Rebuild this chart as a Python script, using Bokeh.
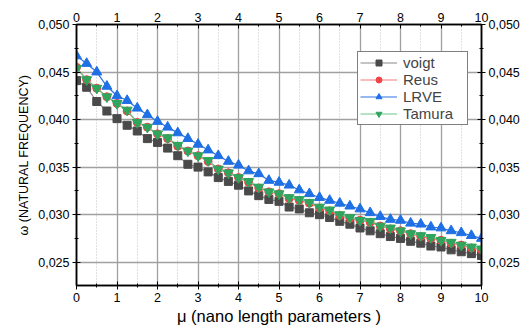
from bokeh.plotting import figure
from bokeh.models import (Range1d, LinearAxis, CustomJSTickFormatter, FixedTicker,
                          Legend, LegendItem, Grid)
from bokeh.embed import file_html
from bokeh.resources import INLINE

mu = [0.0, 0.25, 0.5, 0.75, 1.0, 1.25, 1.5, 1.75, 2.0, 2.25, 2.5, 2.75, 3.0, 3.25,
      3.5, 3.75, 4.0, 4.25, 4.5, 4.75, 5.0, 5.25, 5.5, 5.75, 6.0, 6.25, 6.5, 6.75,
      7.0, 7.25, 7.5, 7.75, 8.0, 8.25, 8.5, 8.75, 9.0, 9.25, 9.5, 9.75, 10.0]

voigt = [0.0441, 0.0434, 0.0419, 0.0409, 0.0401, 0.0394, 0.0388, 0.0380, 0.0376, 0.0370,
         0.0362, 0.0353, 0.0350, 0.0345, 0.0339, 0.0335, 0.0331, 0.0325, 0.0320, 0.0316,
         0.0314, 0.0308, 0.0306, 0.0302, 0.0300, 0.0297, 0.0293, 0.0290, 0.0286, 0.0283,
         0.0280, 0.0277, 0.0275, 0.0272, 0.0270, 0.0267, 0.0266, 0.0263, 0.0261, 0.0259,
         0.0257]

reus = [0.0455, 0.0442, 0.0433, 0.0424, 0.0417, 0.0409, 0.0397, 0.0392, 0.0385, 0.0380,
        0.0372, 0.0367, 0.0362, 0.0356, 0.0348, 0.0344, 0.0339, 0.0334, 0.0328, 0.0324,
        0.0322, 0.0317, 0.0315, 0.0312, 0.0307, 0.0304, 0.0299, 0.0296, 0.0294, 0.0292,
        0.0288, 0.0285, 0.0283, 0.0280, 0.0277, 0.0275, 0.0273, 0.0270, 0.0268, 0.0265,
        0.0263]

lrve = [0.0467, 0.0459, 0.0450, 0.0435, 0.0425, 0.0420, 0.0412, 0.0405, 0.0398, 0.0392,
        0.0386, 0.0380, 0.0374, 0.0368, 0.0362, 0.0356, 0.0352, 0.0346, 0.0343, 0.0336,
        0.0334, 0.0331, 0.0326, 0.0322, 0.0318, 0.0315, 0.0312, 0.0309, 0.0306, 0.0302,
        0.0298, 0.0295, 0.0294, 0.0291, 0.0290, 0.0287, 0.0286, 0.0283, 0.0281, 0.0278,
        0.0275]

tamura = [0.0454, 0.0442, 0.0433, 0.0424, 0.0417, 0.0410, 0.0397, 0.0392, 0.0385, 0.0381,
          0.0373, 0.0367, 0.0362, 0.0357, 0.0348, 0.0344, 0.0339, 0.0335, 0.0329, 0.0324,
          0.0322, 0.0318, 0.0316, 0.0313, 0.0308, 0.0305, 0.0300, 0.0297, 0.0294, 0.0293,
          0.0288, 0.0286, 0.0283, 0.0280, 0.0278, 0.0276, 0.0273, 0.0271, 0.0268, 0.0266,
          0.0264]

x_ticks = [0, 1, 2, 3, 4, 5, 6, 7, 8, 9, 10]
y_ticks = [0.025, 0.030, 0.035, 0.040, 0.045, 0.050]

FONT = "Liberation Sans"

p = figure(width=529, height=327, output_backend="svg", toolbar_location=None,
           x_range=Range1d(0, 10), y_range=Range1d(0.02255, 0.050),
           min_border_left=76, min_border_right=48, min_border_top=24, min_border_bottom=42,
           x_axis_location=None, y_axis_location=None)
p.outline_line_color = "black"
p.outline_line_width = 1.5
p.background_fill_color = "white"
p.grid.visible = False

yfmt = CustomJSTickFormatter(code="return tick.toFixed(3).replace('.', ',');")
xfmt = CustomJSTickFormatter(code="return tick.toFixed(0);")


def style_axis(ax, fmt, ticks, minor):
    ax.ticker = FixedTicker(ticks=ticks, minor_ticks=minor)
    ax.formatter = fmt
    ax.major_label_text_font = FONT
    ax.major_label_text_font_size = "12.5px"
    ax.major_label_text_color = "black"
    ax.axis_line_color = "black"
    ax.axis_line_width = 1.5
    ax.major_tick_line_color = "black"
    ax.minor_tick_line_color = "black"
    ax.major_tick_in = 4
    ax.major_tick_out = 4
    ax.minor_tick_in = 2
    ax.minor_tick_out = 2
    ax.major_label_standoff = 3
    ax.axis_label_text_font = FONT
    ax.axis_label_text_font_style = "normal"
    ax.axis_label_text_color = "black"


x_minor = [i * 0.5 for i in range(21)]
y_minor = [0.0225 + i * 0.0025 for i in range(12)]

bx = LinearAxis(axis_label="\u03bc (nano length parameters )")
style_axis(bx, xfmt, x_ticks, x_minor)
bx.axis_label_text_font_size = "16.5px"
bx.axis_label_standoff = 2
p.add_layout(bx, "below")

tx = LinearAxis()
style_axis(tx, xfmt, x_ticks, x_minor)
tx.major_tick_out = 0
tx.minor_tick_out = 0
tx.major_label_standoff = 3
p.add_layout(tx, "above")

ly = LinearAxis(axis_label="\u03c9 (NATURAL FREQUENCY)")
style_axis(ly, yfmt, y_ticks, y_minor)
ly.axis_label_text_font_size = "12.5px"
ly.axis_label_standoff = 4
p.add_layout(ly, "left")

ry = LinearAxis()
style_axis(ry, yfmt, y_ticks, y_minor)
p.add_layout(ry, "right")

xgrid = Grid(dimension=0, ticker=FixedTicker(ticks=x_ticks, minor_ticks=x_minor),
             grid_line_color="#a0a0a0", grid_line_width=1.3,
             minor_grid_line_color="#c0c0c0", minor_grid_line_dash="1 2",
             minor_grid_line_width=1)
ygrid = Grid(dimension=1, ticker=FixedTicker(ticks=y_ticks),
             grid_line_color="#a0a0a0", grid_line_width=1.3)
p.add_layout(xgrid)
p.add_layout(ygrid)

series = [
    ("voigt", voigt, "#8a8a8a", "#4a4a4a", "square", 8),
    ("Reus", reus, "#f47a7a", "#ef4444", "circle", 8),
    ("LRVE", lrve, "#2a72e0", "#1f6fe5", "triangle", 10),
    ("Tamura", tamura, "#6cc48c", "#2fa55e", "inverted_triangle", 10),
]

items = []
for name, ys, lc, mc, marker, size in series:
    ln = p.line(mu, ys, line_color=lc, line_width=1.2)
    sc = p.scatter(mu, ys, marker=marker, size=size, fill_color=mc, line_color=mc)
    items.append(LegendItem(label=name, renderers=[ln, sc]))

legend = Legend(items=items, location=(281, 160), label_text_font=FONT,
                label_text_font_size="15px", glyph_width=37, glyph_height=15,
                spacing=0, padding=2, margin=0, label_standoff=6, label_width=62,
                border_line_color="black", border_line_width=1.2,
                background_fill_alpha=1.0, label_height=16)
p.add_layout(legend, "center")

open("out.html", "w").write(file_html(p, INLINE))
